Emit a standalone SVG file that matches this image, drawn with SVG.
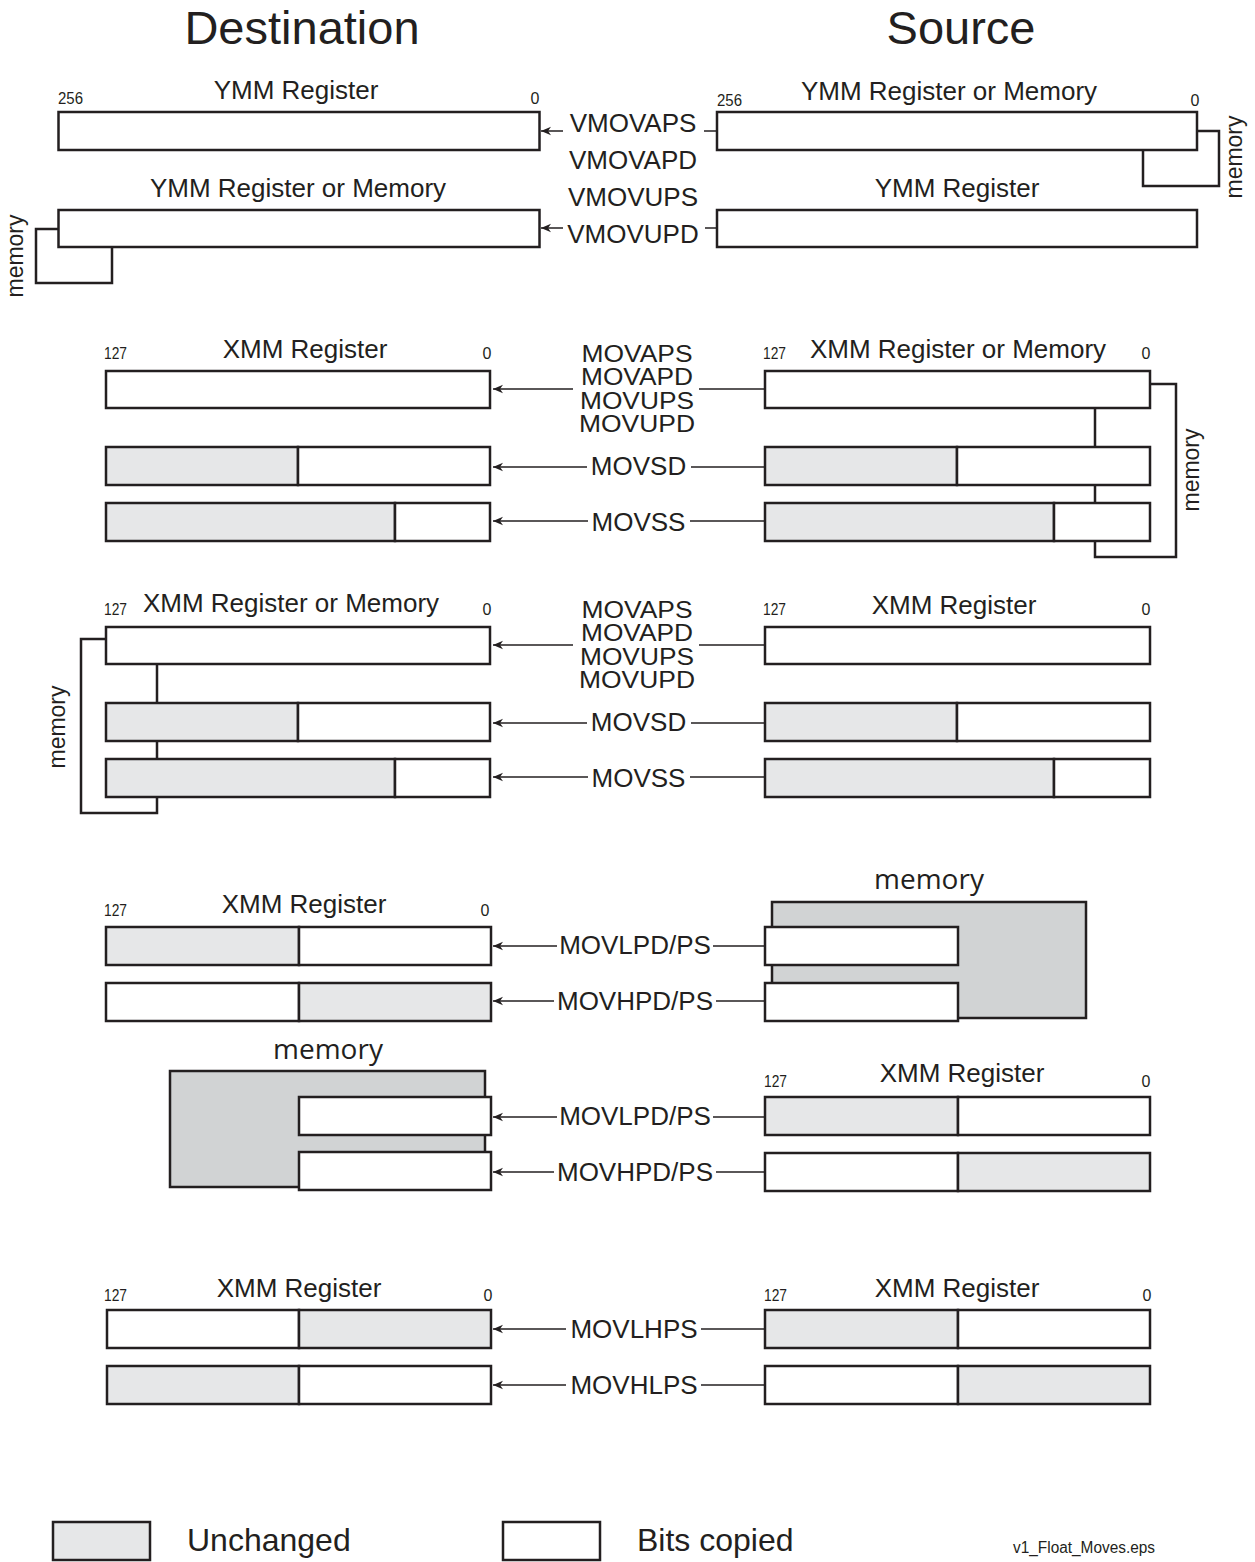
<svg xmlns="http://www.w3.org/2000/svg" width="1255" height="1562" viewBox="0 0 1255 1562">
<defs>
<marker id="ah" markerWidth="11" markerHeight="10" refX="10" refY="5" orient="auto" markerUnits="userSpaceOnUse">
<path d="M0,0.8 L10,5 L0,9.2 L3,5 Z" fill="#231f20"/>
</marker>
</defs>
<style>
.b{fill:#fff;stroke:#231f20;stroke-width:2.5}
.g{fill:#e6e7e8;stroke:#231f20;stroke-width:2.5}
.m{fill:#d1d3d4;stroke:#231f20;stroke-width:2.5}
.c{fill:none;stroke:#231f20;stroke-width:1.5}
.a{fill:none;stroke:#231f20;stroke-width:1.5;marker-end:url(#ah)}
.br{fill:none;stroke:#231f20;stroke-width:2.5}
text{font-family:"Liberation Sans",Arial,sans-serif;fill:#231f20}
.t{font-size:47px;text-anchor:middle}
.l{font-size:26px;text-anchor:middle}
.s{font-size:23px;text-anchor:middle}
.n{font-size:16px}
.z{font-size:16px;text-anchor:middle}
.mem{font-size:23px;text-anchor:middle}
.mb{font-family:"Open Sans","Liberation Sans",sans-serif;font-size:28px;text-anchor:middle}
.lg{font-size:32px}
</style>
<rect width="1255" height="1562" fill="#fff"/>
<text class="t" x="302" y="44">Destination</text>
<text class="t" x="961" y="44">Source</text>

<g id="connectors">
<polyline class="br" points="58,229 36,229 36,283 112,283 112,247"/>
<polyline class="br" points="1197,131 1219,131 1219,186 1143,186 1143,150"/>
<polyline class="br" points="1150,384 1176,384 1176,557 1095,557 1095,408"/>
<polyline class="br" points="106,639 81,639 81,813 157,813 157,664"/>
<line class="a" x1="563" y1="131" x2="541" y2="131"/>
<line class="c" x1="704" y1="131" x2="717" y2="131"/>
<line class="a" x1="563" y1="228" x2="541" y2="228"/>
<line class="c" x1="705" y1="228" x2="717" y2="228"/>
<line class="a" x1="573" y1="389" x2="493" y2="389"/>
<line class="c" x1="699" y1="389" x2="765" y2="389"/>
<line class="a" x1="587" y1="467" x2="493" y2="467"/>
<line class="c" x1="691" y1="467" x2="765" y2="467"/>
<line class="a" x1="588" y1="521" x2="493" y2="521"/>
<line class="c" x1="690" y1="521" x2="765" y2="521"/>
<line class="a" x1="573" y1="645" x2="493" y2="645"/>
<line class="c" x1="699" y1="645" x2="765" y2="645"/>
<line class="a" x1="587" y1="723" x2="493" y2="723"/>
<line class="c" x1="691" y1="723" x2="765" y2="723"/>
<line class="a" x1="588" y1="777" x2="493" y2="777"/>
<line class="c" x1="690" y1="777" x2="765" y2="777"/>
<line class="a" x1="557" y1="946" x2="493" y2="946"/>
<line class="c" x1="713" y1="946" x2="765" y2="946"/>
<line class="a" x1="554" y1="1001" x2="493" y2="1001"/>
<line class="c" x1="716" y1="1001" x2="765" y2="1001"/>
<line class="a" x1="557" y1="1117" x2="493" y2="1117"/>
<line class="c" x1="713" y1="1117" x2="765" y2="1117"/>
<line class="a" x1="554" y1="1172" x2="493" y2="1172"/>
<line class="c" x1="716" y1="1172" x2="765" y2="1172"/>
<line class="a" x1="566" y1="1329" x2="493" y2="1329"/>
<line class="c" x1="701" y1="1329" x2="765" y2="1329"/>
<line class="a" x1="566" y1="1385" x2="493" y2="1385"/>
<line class="c" x1="701" y1="1385" x2="765" y2="1385"/>
</g>

<g id="labels">
<text class="l" x="633" y="132">VMOVAPS</text>
<text class="l" x="633" y="169">VMOVAPD</text>
<text class="l" x="633" y="206">VMOVUPS</text>
<text class="l" x="633" y="243">VMOVUPD</text>
<text class="s" x="637" y="362" textLength="111" lengthAdjust="spacingAndGlyphs">MOVAPS</text>
<text class="s" x="637" y="385" textLength="112" lengthAdjust="spacingAndGlyphs">MOVAPD</text>
<text class="s" x="637" y="409" textLength="114" lengthAdjust="spacingAndGlyphs">MOVUPS</text>
<text class="s" x="637" y="432" textLength="116" lengthAdjust="spacingAndGlyphs">MOVUPD</text>
<text class="l" x="638.5" y="475">MOVSD</text>
<text class="l" x="638.5" y="531">MOVSS</text>
<text class="s" x="637" y="618" textLength="111" lengthAdjust="spacingAndGlyphs">MOVAPS</text>
<text class="s" x="637" y="641" textLength="112" lengthAdjust="spacingAndGlyphs">MOVAPD</text>
<text class="s" x="637" y="665" textLength="114" lengthAdjust="spacingAndGlyphs">MOVUPS</text>
<text class="s" x="637" y="688" textLength="116" lengthAdjust="spacingAndGlyphs">MOVUPD</text>
<text class="l" x="638.5" y="731">MOVSD</text>
<text class="l" x="638.5" y="787">MOVSS</text>
<text class="l" x="635" y="954">MOVLPD/PS</text>
<text class="l" x="635" y="1010">MOVHPD/PS</text>
<text class="l" x="635" y="1125">MOVLPD/PS</text>
<text class="l" x="635" y="1181">MOVHPD/PS</text>
<text class="l" x="634" y="1338">MOVLHPS</text>
<text class="l" x="634" y="1394">MOVHLPS</text>
</g>

<g id="ymm-dest">
<text class="l" x="296" y="99">YMM Register</text>
<text class="n" x="58" y="104" textLength="25" lengthAdjust="spacingAndGlyphs">256</text>
<text class="z" x="535" y="104">0</text>
<rect class="b" x="58.5" y="112" width="481" height="38"/>
<text class="l" x="298" y="197">YMM Register or Memory</text>
<rect class="b" x="58.5" y="210" width="481" height="37"/>
<text class="mem" transform="translate(23,256) rotate(-90)">memory</text>
</g>

<g id="ymm-src">
<text class="l" x="949" y="100">YMM Register or Memory</text>
<text class="n" x="717" y="106" textLength="25" lengthAdjust="spacingAndGlyphs">256</text>
<text class="z" x="1195" y="106">0</text>
<rect class="b" x="717" y="112" width="480" height="38"/>
<text class="mem" transform="translate(1242,157) rotate(-90)">memory</text>
<text class="l" x="957" y="197">YMM Register</text>
<rect class="b" x="717" y="210" width="480" height="37"/>
</g>

<g id="xmm-dest-1">
<text class="n" x="104" y="359" textLength="23" lengthAdjust="spacingAndGlyphs">127</text>
<text class="l" x="305" y="358">XMM Register</text>
<text class="z" x="487" y="359">0</text>
<rect class="b" x="106" y="371" width="384" height="37"/>
<rect class="g" x="106" y="447" width="192" height="38"/>
<rect class="b" x="298" y="447" width="192" height="38"/>
<rect class="g" x="106" y="503" width="289" height="38"/>
<rect class="b" x="395" y="503" width="95" height="38"/>
</g>

<g id="xmm-src-1">
<text class="n" x="763" y="359" textLength="23" lengthAdjust="spacingAndGlyphs">127</text>
<text class="l" x="958" y="358">XMM Register or Memory</text>
<text class="z" x="1146" y="359">0</text>
<rect class="b" x="765" y="371" width="385" height="37"/>
<rect class="g" x="765" y="447" width="192" height="38"/>
<rect class="b" x="957" y="447" width="193" height="38"/>
<rect class="g" x="765" y="503" width="289" height="38"/>
<rect class="b" x="1054" y="503" width="96" height="38"/>
<text class="mem" transform="translate(1199,470) rotate(-90)">memory</text>
</g>

<g id="xmm-dest-2">
<text class="n" x="104" y="615" textLength="23" lengthAdjust="spacingAndGlyphs">127</text>
<text class="l" x="291" y="612">XMM Register or Memory</text>
<text class="z" x="487" y="615">0</text>
<rect class="b" x="106" y="627" width="384" height="37"/>
<rect class="g" x="106" y="703" width="192" height="38"/>
<rect class="b" x="298" y="703" width="192" height="38"/>
<rect class="g" x="106" y="759" width="289" height="38"/>
<rect class="b" x="395" y="759" width="95" height="38"/>
<text class="mem" transform="translate(65,727) rotate(-90)">memory</text>
</g>

<g id="xmm-src-2">
<text class="n" x="763" y="615" textLength="23" lengthAdjust="spacingAndGlyphs">127</text>
<text class="l" x="954" y="614">XMM Register</text>
<text class="z" x="1146" y="615">0</text>
<rect class="b" x="765" y="627" width="385" height="37"/>
<rect class="g" x="765" y="703" width="192" height="38"/>
<rect class="b" x="957" y="703" width="193" height="38"/>
<rect class="g" x="765" y="759" width="289" height="38"/>
<rect class="b" x="1054" y="759" width="96" height="38"/>
</g>

<g id="xmm-dest-3">
<text class="n" x="104" y="916" textLength="23" lengthAdjust="spacingAndGlyphs">127</text>
<text class="l" x="304" y="913">XMM Register</text>
<text class="z" x="485" y="916">0</text>
<rect class="g" x="106" y="927" width="193" height="38"/>
<rect class="b" x="299" y="927" width="192" height="38"/>
<rect class="b" x="106" y="983" width="193" height="38"/>
<rect class="g" x="299" y="983" width="192" height="38"/>
</g>

<g id="mem-src-3">
<text class="mb" x="929" y="889">memory</text>
<rect class="m" x="772" y="902" width="314" height="116"/>
<rect class="b" x="765" y="927" width="193" height="38"/>
<rect class="b" x="765" y="983" width="193" height="38"/>
</g>

<g id="mem-dest-4">
<text class="mb" x="328" y="1059">memory</text>
<rect class="m" x="170" y="1071" width="315" height="116"/>
<rect class="b" x="299" y="1097" width="192" height="38"/>
<rect class="b" x="299" y="1152" width="192" height="38"/>
</g>

<g id="xmm-src-4">
<text class="n" x="764" y="1087" textLength="23" lengthAdjust="spacingAndGlyphs">127</text>
<text class="l" x="962" y="1082">XMM Register</text>
<text class="z" x="1146" y="1087">0</text>
<rect class="g" x="765" y="1097" width="193" height="38"/>
<rect class="b" x="958" y="1097" width="192" height="38"/>
<rect class="b" x="765" y="1153" width="193" height="38"/>
<rect class="g" x="958" y="1153" width="192" height="38"/>
</g>

<g id="xmm-dest-5">
<text class="n" x="104" y="1301" textLength="23" lengthAdjust="spacingAndGlyphs">127</text>
<text class="l" x="299" y="1297">XMM Register</text>
<text class="z" x="488" y="1301">0</text>
<rect class="b" x="107" y="1310" width="192" height="38"/>
<rect class="g" x="299" y="1310" width="192" height="38"/>
<rect class="g" x="107" y="1366" width="192" height="38"/>
<rect class="b" x="299" y="1366" width="192" height="38"/>
</g>

<g id="xmm-src-5">
<text class="n" x="764" y="1301" textLength="23" lengthAdjust="spacingAndGlyphs">127</text>
<text class="l" x="957" y="1297">XMM Register</text>
<text class="z" x="1147" y="1301">0</text>
<rect class="g" x="765" y="1310" width="193" height="38"/>
<rect class="b" x="958" y="1310" width="192" height="38"/>
<rect class="b" x="765" y="1366" width="193" height="38"/>
<rect class="g" x="958" y="1366" width="192" height="38"/>
</g>

<g id="legend">
<rect class="g" x="53" y="1522" width="97" height="38"/>
<text class="lg" x="187" y="1551">Unchanged</text>
<rect class="b" x="503" y="1522" width="97" height="38"/>
<text class="lg" x="637" y="1551">Bits copied</text>
<text class="n" x="1013" y="1553" textLength="142" lengthAdjust="spacingAndGlyphs">v1_Float_Moves.eps</text>
</g>
</svg>
